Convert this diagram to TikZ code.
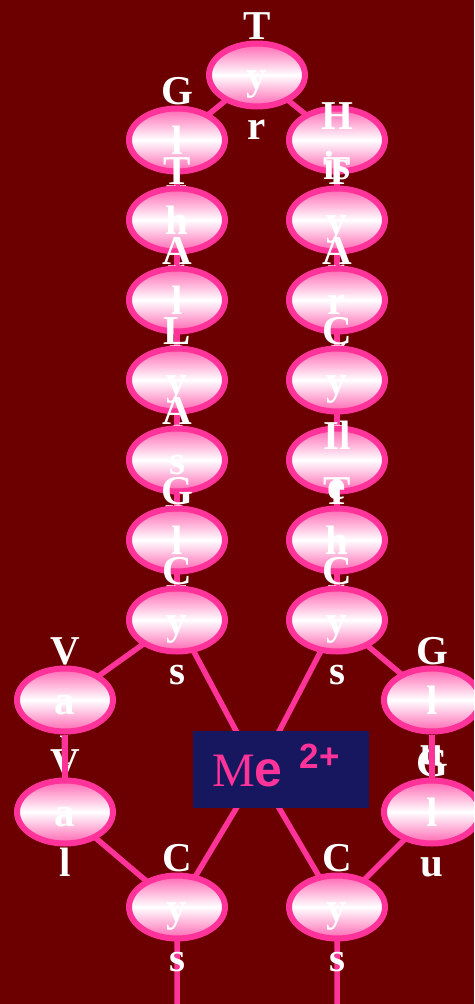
\documentclass[tikz,border=0pt]{standalone}
\usepackage{fontspec}
\setmainfont{Liberation Serif}
\newfontfamily\mesans{Liberation Sans}
\usetikzlibrary{shapes.geometric,backgrounds}
\definecolor{Canvas}{HTML}{6C0000}
\definecolor{Rim}{HTML}{FF3399}
\definecolor{Blush}{HTML}{FF66B3}
\definecolor{Navy}{HTML}{16175E}
\newcommand\rs{\rule[-11pt]{0pt}{50pt}}
\newcommand\aacid[4]{\node[res] (#1) at (#2,#3) {};\node[reslbl] (#1l) at (#1) {\rs #4\rs};}
\tikzset{
  res/.style={ellipse,draw=Rim,line width=6pt,top color=Blush,bottom color=Blush,middle color=white,
    minimum width=96pt,minimum height=63pt,inner sep=0pt},
  reslbl/.style={text=white,font=\bfseries\fontsize{41}{50}\selectfont,align=center,inner sep=0pt},
  bond/.style={Rim,line width=5.5pt},
  mebox/.style={fill=Navy,minimum width=176pt,minimum height=77pt,inner sep=0pt}
}
\begin{document}
\begin{tikzpicture}[x=1pt,y=-1pt]
\useasboundingbox (0,0) rectangle (474,1004);
\clip (0,0) rectangle (474,1004);
% top
\aacid{tyr}{257}{75}{T\\y\\r}
% left chain
\aacid{glyA}{177}{140}{G\\l\\y}
\aacid{thrA}{177}{220}{T\\h\\r}
\aacid{ala}{177}{300}{A\\l\\a}
\aacid{lys}{177}{380}{L\\y\\s}
\aacid{asp}{177}{460}{A\\s\\p}
\aacid{glyB}{177}{540}{G\\l\\y}
\aacid{cysA}{177}{620}{C\\y\\s}
% right chain
\aacid{his}{337}{140}{H\\is}
\aacid{tyrB}{337}{220}{T\\y\\r}
\aacid{arg}{337}{300}{A\\r\\g}
\aacid{cysB}{337}{380}{C\\y\\s}
\aacid{ile}{337}{460}{Il\\e}
\aacid{thrB}{337}{540}{T\\h\\r}
\aacid{cysC}{337}{620}{C\\y\\s}
% loops round the metal
\aacid{valA}{65}{700}{V\\a\\l}
\aacid{valB}{65}{812}{V\\a\\l}
\aacid{gluA}{432}{700}{G\\l\\u}
\aacid{gluB}{432}{812}{G\\l\\u}
\aacid{cysD}{177}{907}{C\\y\\s}
\aacid{cysE}{337}{907}{C\\y\\s}
% these two lie over the letters
\draw[bond] (valA)--(valB);
\draw[bond] (gluA)--(gluB);
% metal
\coordinate (hub) at (258,772);
\coordinate (endD) at (177,1004);
\coordinate (endE) at (337,1004);
\node[mebox] (me) at (281,769.5) {};
\node[anchor=base west,inner sep=0pt,text=Rim] (mel) at (212,786)
  {{\fontsize{48}{48}\selectfont M}{\mesans\bfseries\fontsize{50}{50}\selectfont e}\hspace{17pt}\raisebox{18pt}{\mesans\bfseries\fontsize{35}{35}\selectfont 2+}};
\begin{scope}[on background layer]
\fill[Canvas] (0,0) rectangle (474,1004);
\draw[bond] (glyA.center)--(tyr.center)--(his.center);
\draw[bond] (glyA.center)--(thrA.center)--(ala.center)--(lys.center)--(asp.center)--(glyB.center)--(cysA.center);
\draw[bond] (his.center)--(tyrB.center)--(arg.center)--(cysB.center)--(ile.center)--(thrB.center)--(cysC.center);
\draw[bond] (cysA.center)--(valA.center);
\draw[bond] (valB.center)--(cysD.center)--(endD);
\draw[bond] (cysC.center)--(gluA.center);
\draw[bond] (gluB.center)--(cysE.center)--(endE);
\draw[bond] (cysA.center)--(hub)--(cysC.center);
\draw[bond] (cysD.center)--(hub)--(cysE.center);
\end{scope}
\end{tikzpicture}
\end{document}
